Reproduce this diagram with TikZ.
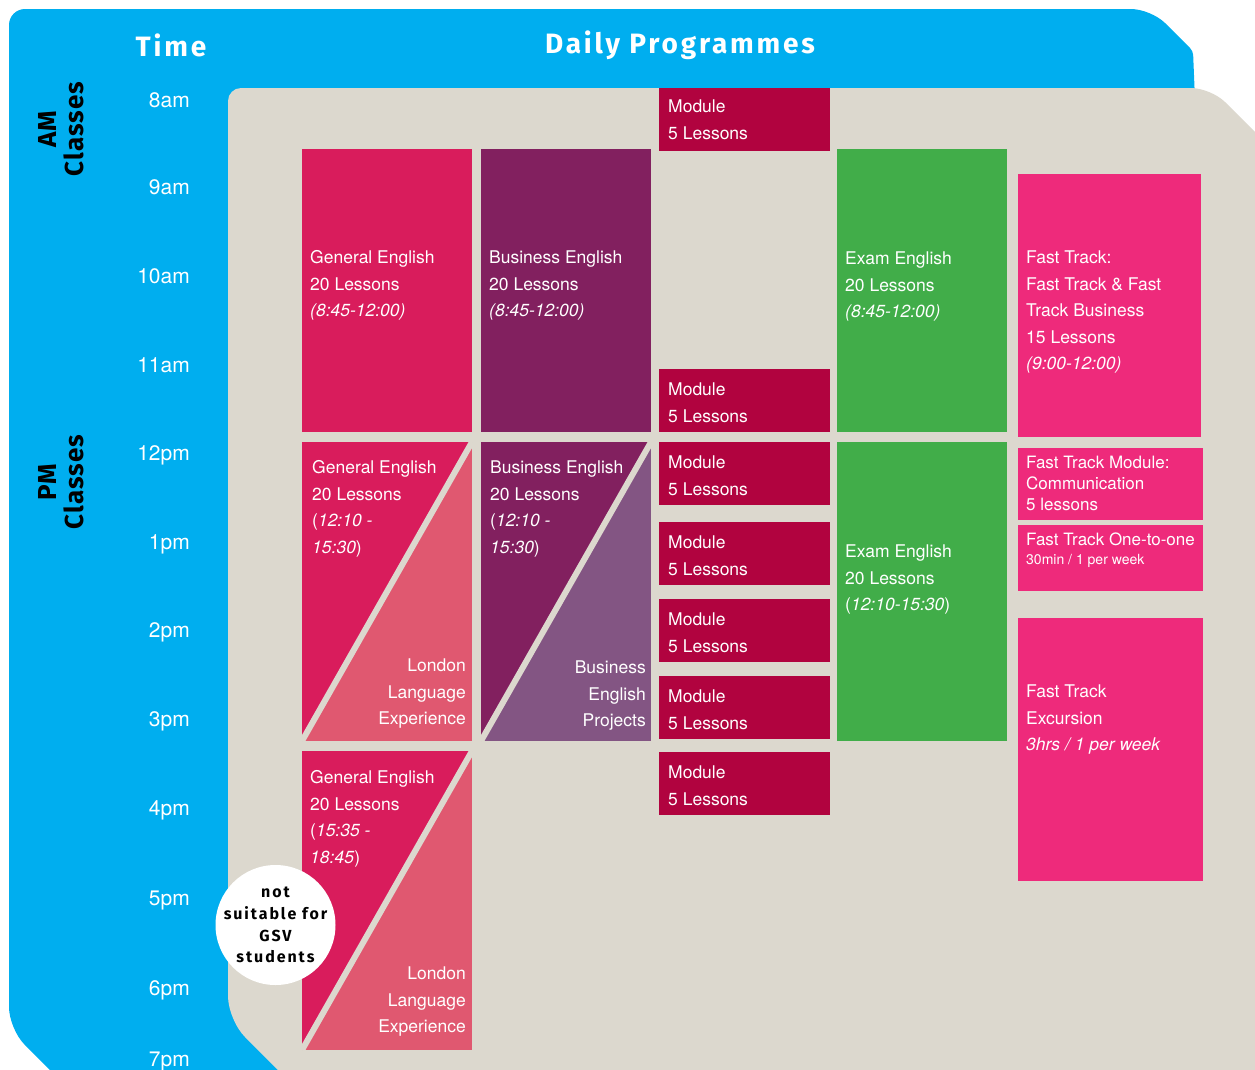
\documentclass[tikz,border=0pt]{standalone}
\usepackage{fontspec}
\setmainfont{TeX Gyre Heros}
\newfontfamily\titlefont[LetterSpace=10]{Fira Sans}
\newfontfamily\labfont[LetterSpace=4]{Fira Sans}
\newfontfamily\gsvfont[LetterSpace=12]{Fira Sans}
\definecolor{cblue}{HTML}{00AEEF}
\definecolor{cbeige}{HTML}{DCD8CE}
\definecolor{gedark}{HTML}{D91C5C}
\definecolor{gelight}{HTML}{E05870}
\definecolor{bedark}{HTML}{82205F}
\definecolor{belight}{HTML}{835583}
\definecolor{cmod}{HTML}{B1033F}
\definecolor{cgreen}{HTML}{41AD49}
\definecolor{cpink}{HTML}{EE2A7B}
\tikzset{
  box/.style={rectangle, inner sep=0pt, outer sep=0pt, anchor=north west, draw=none},
  txt/.style={anchor=north west, inner sep=0pt, align=left, text=white, font=\fontsize{17.5}{26.6}\selectfont},
  txtr/.style={anchor=north east, inner sep=0pt, align=right, text=white, font=\fontsize{17.5}{26.6}\selectfont},
  hour/.style={anchor=base east, inner sep=0pt, text=white, font=\fontsize{21}{25}\selectfont},
  title/.style={inner sep=0pt, text=white, font=\titlefont\bfseries\fontsize{28}{30}\selectfont},
  side/.style={inner sep=0pt, rotate=90, align=center, text=black, font=\labfont\bfseries\fontsize{26}{27}\selectfont},
  gap/.style={cbeige, line width=6pt}
}
\begin{document}
\begin{tikzpicture}[x=1pt,y=-1pt]
\useasboundingbox (0,0) rectangle (1255,1069);
\clip (0,0) rectangle (1255,1069);
% background shapes
\fill[cblue] (80,1100) [rounded corners=22] -- (9,1029) [rounded corners=16] -- (9,9) [rounded corners=20] -- (1151,9) [rounded corners=4] -- (1193,51) [sharp corners] -- (1195,100) -- (400,100) -- (400,1100) -- cycle;
\fill[cbeige] (310,1102) [rounded corners=24] -- (228,1020) [rounded corners=13] -- (228,88) [rounded corners=20] -- (1211,88) [sharp corners] -- (1275,152) -- (1275,1102) -- cycle;
% headings
\node[title] (ttime) at (171,45) {Time};
\node[title] (tdaily) at (680,45) {Daily Programmes};
\node[side] (am) at (61.5,129) {AM\\Classes};
\node[side] (pm) at (61.5,482) {PM\\Classes};
% hours
\node[hour] (h8) at (190,107.5) {8am};
\node[hour] (h9) at (190,194.5) {9am};
\node[hour] (h10) at (190,283.5) {10am};
\node[hour] (h11) at (190,372.5) {11am};
\node[hour] (h12) at (190,460.5) {12pm};
\node[hour] (h1) at (190,549.5) {1pm};
\node[hour] (h2) at (190,637.5) {2pm};
\node[hour] (h3) at (190,726.5) {3pm};
\node[hour] (h4) at (190,815.5) {4pm};
\node[hour] (h5) at (190,905.5) {5pm};
\node[hour] (h6) at (190,995.5) {6pm};
\node[hour] (h7) at (190,1066) {7pm};
% General English column
\node[box, fill=gedark, minimum width=170pt, minimum height=283pt] (geam) at (302,149) {};
\node[txt] (geamt) at (310,250.5) {General English\\20 Lessons\\\textit{(8:45-12:00)}};
\node[box, fill=gelight, minimum width=170pt, minimum height=299pt] (gepm) at (302,442) {};
\fill[gedark] (gepm.north west) -- (gepm.north east) -- (gepm.south west) -- cycle;
\draw[gap] (gepm.south west) -- (gepm.north east);
\node[txt] (gepmt) at (312,460.5) {General English\\20 Lessons\\(\textit{12:10 -}\\\textit{15:30})};
\node[txtr] (gepmr) at (466,658.5) {London\\Language\\Experience};
\node[box, fill=gelight, minimum width=170pt, minimum height=299pt] (geev) at (302,751) {};
\fill[gedark] (geev.north west) -- (geev.north east) -- (geev.south west) -- cycle;
\draw[gap] (geev.south west) -- (geev.north east);
\node[txt] (geevt) at (310,770.5) {General English\\20 Lessons\\(\textit{15:35 -}\\\textit{18:45})};
\node[txtr] (geevr) at (466,966.5) {London\\Language\\Experience};
% Business English column
\node[box, fill=bedark, minimum width=170pt, minimum height=283pt] (beam) at (481,149) {};
\node[txt] (beamt) at (489,250.5) {Business English\\20 Lessons\\\textit{(8:45-12:00)}};
\node[box, fill=belight, minimum width=170pt, minimum height=299pt] (bepm) at (481,442) {};
\fill[bedark] (bepm.north west) -- (bepm.north east) -- (bepm.south west) -- cycle;
\draw[gap] (bepm.south west) -- (bepm.north east);
\node[txt] (bepmt) at (490,460.5) {Business English\\20 Lessons\\(\textit{12:10 -}\\\textit{15:30})};
\node[txtr] (bepmr) at (646,660.5) {Business\\English\\Projects};
% Modules
\foreach \n/\y in {1/88,2/369,3/442,4/522,5/599,6/676,7/752}{
  \node[box, fill=cmod, minimum width=171pt, minimum height=62.5pt] (mod\n) at (659,\y) {};
}
\foreach \n/\y in {1/99.5,2/382.5,3/455.5,4/535.5,5/612.5,6/689.5,7/765.5}{
  \node[txt] (modt\n) at (668,\y) {Module\\5 Lessons};
}
% Exam English
\node[box, fill=cgreen, minimum width=170pt, minimum height=283pt] (exam) at (837,149) {};
\node[txt] (examt) at (845,251.5) {Exam English\\20 Lessons\\\textit{(8:45-12:00)}};
\node[box, fill=cgreen, minimum width=170pt, minimum height=299pt] (expm) at (837,442) {};
\node[txt] (expmt) at (845,544.5) {Exam English\\20 Lessons\\(\textit{12:10-15:30})};
% Fast Track
\node[box, fill=cpink, minimum width=183pt, minimum height=263pt] (ftam) at (1018,174) {};
\node[txt] (ftamt) at (1026,250.5) {Fast Track:\\Fast Track \& Fast\\Track Business\\15 Lessons\\\textit{(9:00-12:00)}};
\node[box, fill=cpink, minimum width=185pt, minimum height=72pt] (ftmod) at (1018,448) {};
\node[txt, font=\fontsize{17}{21}\selectfont] (ftmodt) at (1026,455.5) {Fast Track Module:\\Communication\\5 lessons};
\node[box, fill=cpink, minimum width=185pt, minimum height=66pt] (ftone) at (1018,525) {};
\node[txt, font=\fontsize{17}{21}\selectfont] (ftonet) at (1026,532.5) {Fast Track One-to-one};
\node[txt, font=\fontsize{14}{17}\selectfont] (ftones) at (1026,554) {30min / 1 per week};
\node[box, fill=cpink, minimum width=185pt, minimum height=263pt] (ftex) at (1018,618) {};
\node[txt] (ftext) at (1026,684.5) {Fast Track\\Excursion\\\textit{3hrs / 1 per week}};
% note circle
\node[circle, fill=white, minimum size=120pt, inner sep=0pt] (gsv) at (275.5,925) {};
\node[inner sep=0pt, align=center, text=black,
      font=\gsvfont\bfseries\fontsize{16}{21.7}\selectfont] (gsvt) at (gsv.center) {not\\suitable for\\GSV\\students};
\end{tikzpicture}
\end{document}
